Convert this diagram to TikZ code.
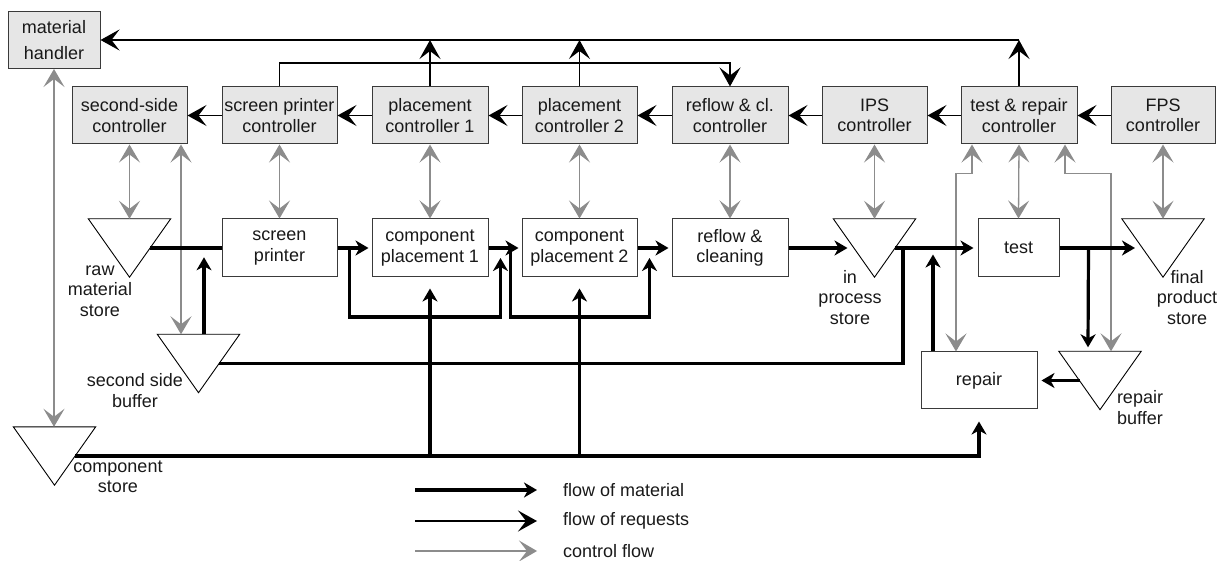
\documentclass[tikz,border=0pt]{standalone}
\usepackage{fontspec}
\setmainfont{Liberation Sans}
\usetikzlibrary{arrows.meta,calc}
\definecolor{ctrlfill}{HTML}{E6E6E6}
\definecolor{ctlgray}{HTML}{8C8C8C}
\definecolor{boxline}{HTML}{3A3A3A}

\begin{document}
\begin{tikzpicture}[x=1pt,y=-1pt,
  every node/.style={font=\fontsize{18}{20.5}\selectfont, align=center, inner sep=0pt, text=black!90},
  ctrl/.style={draw=boxline, fill=ctrlfill, line width=1pt, minimum height=57pt},
  proc/.style={draw=boxline, fill=white, line width=1pt, minimum height=58pt},
  store/.style={minimum width=82pt, minimum height=58pt},
  tri/.style={line width=0.9pt, line join=miter},
  mat/.style={line width=3.2pt, -{Stealth[length=13pt,width=15pt,inset=4pt]}},
  matline/.style={line width=3.2pt},
  req/.style={line width=1.6pt, -{Stealth[length=19pt,width=21pt,inset=8pt]}},
  ctl/.style={color=ctlgray, line width=1.3pt,
    {Stealth[length=18pt,width=21pt,inset=8pt]}-{Stealth[length=18pt,width=21pt,inset=8pt]}},
  ctlone/.style={color=ctlgray, line width=1.3pt, -{Stealth[length=18pt,width=21pt,inset=8pt]}},
]
\useasboundingbox (0,0) rectangle (1227,561);

% controllers
\node[ctrl, minimum width=92pt] (mh) at (54,40) {material\\[5.5pt]handler};
\node[ctrl, minimum width=115pt] (c2s)  at (129.5,115.5) {second-side\\controller};
\node[ctrl, minimum width=115pt] (csp)  at (279.5,115.5) {screen printer\\controller};
\node[ctrl, minimum width=116pt] (cpc1) at (430,115.5) {placement\\controller 1};
\node[ctrl, minimum width=115pt] (cpc2) at (579.5,115.5) {placement\\controller 2};
\node[ctrl, minimum width=116pt] (crf)  at (730,115.5) {reflow \& cl.\\controller};
\node[ctrl, minimum width=105pt] (cips) at (874.5,115.5) {IPS\\controller};
\node[ctrl, minimum width=116pt] (ctr)  at (1019,115.5) {test \& repair\\controller};
\node[ctrl, minimum width=104pt] (cfps) at (1163,115.5) {FPS\\controller};

% process steps
\node[proc, minimum width=115pt] (sp)   at (279.5,248) {screen\\printer};
\node[proc, minimum width=116pt] (cp1)  at (430,248) {component\\placement 1};
\node[proc, minimum width=115pt] (cp2)  at (579.5,248) {component\\placement 2};
\node[proc, minimum width=116pt] (rf)   at (730,248) {reflow \&\\cleaning};
\node[proc, minimum width=81pt]  (test) at (1018.5,248) {test};
\node[proc, minimum width=116pt, minimum height=57pt] (repair) at (979,380.5) {repair};

% stores (drawn as downward triangles)
\node[store] (raw) at (129.5,248) {};
\node[store] (ssb) at (198.5,363.5) {};
\node[store] (cs)  at (54.5,456) {};
\node[store] (ips) at (874.5,248) {};
\node[store] (fps) at (1163,248) {};
\node[store] (rb)  at (1100,380.5) {};
\foreach \s in {raw,ssb,cs,ips,fps,rb}
  \draw[tri] (\s.north west) -- (\s.north east) -- (\s.south) -- cycle;

% store labels
\node (rawlbl) at (100,291) {raw\\material\\store};
\node (ssblbl) at (135,390.5) {second side\\buffer};
\node (cslbl)  at (118,477) {component\\store};
\node (ipslbl) at (850,297.5) {in\\process\\store};
\node (fpslbl) at (1187,297.5) {final\\product\\store};
\node (rblbl)  at (1140,407.5) {repair\\buffer};

% control flow
\draw[ctl] (mh.south) -- (mh.south |- cs.north);
\draw[ctl] (c2s.south) -- (raw.north);
\draw[ctl] ($(c2s.south)+(51.5,0)$) -- ($(ssb.north)+(-17.5,0)$);
\draw[ctl] (csp.south) -- (sp.north);
\draw[ctl] (cpc1.south) -- (cp1.north);
\draw[ctl] (cpc2.south) -- (cp2.north);
\draw[ctl] (crf.south) -- (rf.north);
\draw[ctl] (cips.south) -- (ips.north);
\draw[ctl] (ctr.south) -- (test.north);
\draw[ctl] (cfps.south) -- (fps.north);
\draw[ctl] ($(ctr.south)+(-47,0)$) -- ++(0,29) -| ($(repair.north)+(-23,0)$);
\draw[ctl] ($(ctr.south)+(46,0)$) -- ++(0,29) -| ($(rb.north)+(11,0)$);

% flow of requests
\draw[req] (ctr.north) -- (ctr.north |- 0,40);
\draw[req] (ctr.north |- 0,40) -- (mh.east);
\draw[req] (cpc1.north) -- (cpc1.north |- 0,40);
\draw[req] (cpc2.north) -- (cpc2.north |- 0,40);
\draw[req] (csp.north) -- (csp.north |- 0,63) -| (crf.north);
\draw[req] (cfps.west) -- (ctr.east);
\draw[req] (ctr.west) -- (cips.east);
\draw[req] (cips.west) -- (crf.east);
\draw[req] (crf.west) -- (cpc2.east);
\draw[req] (cpc2.west) -- (cpc1.east);
\draw[req] (cpc1.west) -- (csp.east);
\draw[req] (csp.west) -- (c2s.east);

% flow of material
\draw[matline] ($(raw.center)+(20.5,0)$) -- (sp.west);
\draw[mat] ($(ssb.north)+(5.5,0)$) -- ++(0,-77);
\draw[mat, shorten >=3pt] (sp.east) -- (cp1.west);
\draw[mat] ($(sp.east)+(12,0)$) -- ++(0,69) -| ($(cp1.east)+(12,10)$);
\draw[mat, shorten >=3pt] (cp1.east) -- (cp2.west);
\draw[mat] ($(cp1.east)+(22,0)$) -- ++(0,69) -| ($(cp2.east)+(12,10)$);
\draw[mat, shorten >=3pt] (cp2.east) -- (rf.west);
\draw[mat] (rf.east) -- ($(ips.center)+(-27,0)$);
\draw[mat, shorten >=4pt] ($(ips.center)+(20.5,0)$) -- (test.west);
\draw[matline] ($(ips.center)+(28.5,0)$) |- ($(ssb.center)+(20.5,0)$);
\draw[mat] ($(repair.north)+(-46,0)$) -- ++(0,-97);
\draw[mat] (test.east) -- ($(fps.center)+(-28,0)$);
\draw[mat] ($(test.east)+(29,0)$) -- ($(rb.north)+(-12,-4)$);
\draw[mat, shorten >=4pt] ($(rb.center)+(-20.5,0)$) -- (repair.east);
\draw[mat] ($(cs.center)+(20.5,0)$) -| ($(repair.south)+(0,12)$);
\draw[mat] (cp1.south |- cs.center) -- ($(cp1.south)+(0,11)$);
\draw[mat] (cp2.south |- cs.center) -- ($(cp2.south)+(0,11)$);

% legend
\draw[mat] (415,490) -- (537,490);
\node[anchor=west] (lg1) at (563,490) {flow of material};
\draw[req] (415,521) -- (537,521);
\node[anchor=west] (lg2) at (563,521) {flow of requests};
\draw[ctlone] (415,551) -- (537,551);
\node[anchor=west] (lg3) at (563,551) {control flow};
\end{tikzpicture}
\end{document}
